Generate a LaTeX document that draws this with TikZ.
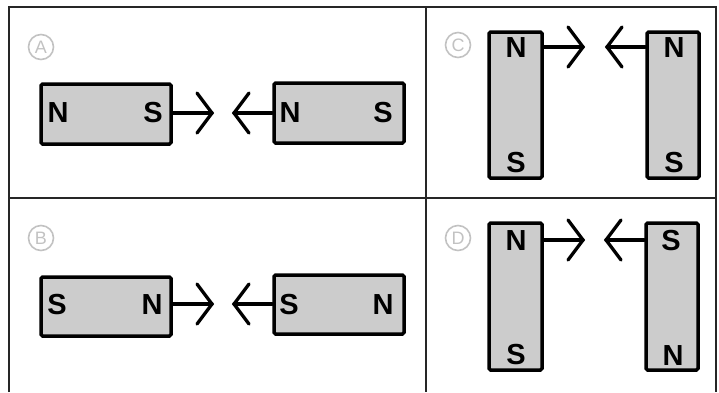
\documentclass[tikz,border=0pt]{standalone}
\usepackage{fontspec}
\setmainfont{Liberation Sans}
\begin{document}
\begin{tikzpicture}[x=1pt,y=-1pt,
  frame/.style={draw=black!85,line width=2pt},
  magnet/.style={draw=black,fill=black!20,line width=3.5pt,rounded corners=1.5pt,inner sep=0pt},
  pole/.style={font=\fontsize{29}{30}\selectfont\bfseries,text height=20.8pt,text depth=0pt,inner sep=0pt},
  tag/.style={draw=black!24,line width=1.6pt,circle,minimum size=25pt,inner sep=0pt,text=black!24,font=\fontsize{18}{19}\selectfont},
  force/.style={line width=3.3pt,line cap=round,line join=miter}]
\useasboundingbox (0,0) rectangle (719,392);
% frame
\coordinate (fbl) at (9,392);
\coordinate (ftl) at (9,7);
\coordinate (ftr) at (716,7);
\coordinate (fbr) at (716,392);
\coordinate (fmt) at (426,7);
\coordinate (fmb) at (426,392);
\coordinate (fml) at (9,198);
\coordinate (fmr) at (716,198);
\draw[frame] (fbl) -- (ftl) -- (ftr) -- (fbr);
\draw[frame] (fmt) -- (fmb);
\draw[frame] (fml) -- (fmr);
% tags
\node[tag] (tA) at (41,47) {A};
\node[tag] (tB) at (41,238) {B};
\node[tag] (tC) at (458,45) {C};
\node[tag] (tD) at (458,238) {D};
% Panel A
\node[magnet,minimum width=130pt,minimum height=60pt] (a1) at (106,114) {};
\node[magnet,minimum width=130pt,minimum height=60pt] (a2) at (339,113) {};
\node[pole] (a1n) at (58,112) {N};
\node[pole] (a1s) at (153,112) {S};
\node[pole] (a2n) at (290,112) {N};
\node[pole] (a2s) at (383,112) {S};
\coordinate (aT1) at (212,113);
\coordinate (aT2) at (234,113);
\draw[force] (a1.east |- aT1) -- (aT1);
\draw[force] (aT1) ++(-15,-20) -- (aT1) -- ++(-15,20);
\draw[force] (a2.west |- aT2) -- (aT2);
\draw[force] (aT2) ++(15,-20) -- (aT2) -- ++(15,20);
% Panel B
\node[magnet,minimum width=130pt,minimum height=59pt] (b1) at (106,306.5) {};
\node[magnet,minimum width=130pt,minimum height=59pt] (b2) at (339,304.5) {};
\node[pole] (b1s) at (57,304) {S};
\node[pole] (b1n) at (152,304) {N};
\node[pole] (b2s) at (289,304) {S};
\node[pole] (b2n) at (383,304) {N};
\coordinate (bT1) at (212,304);
\coordinate (bT2) at (234,304);
\draw[force] (b1.east |- bT1) -- (bT1);
\draw[force] (bT1) ++(-15,-20) -- (bT1) -- ++(-15,20);
\draw[force] (b2.west |- bT2) -- (bT2);
\draw[force] (bT2) ++(15,-20) -- (bT2) -- ++(15,20);
% Panel C
\node[magnet,minimum width=53pt,minimum height=146pt] (c1) at (515.5,105) {};
\node[magnet,minimum width=52pt,minimum height=146pt] (c2) at (673,105) {};
\node[pole] (c1n) at (516,47) {N};
\node[pole] (c1s) at (516,162) {S};
\node[pole] (c2n) at (674,47) {N};
\node[pole] (c2s) at (674,162) {S};
\coordinate (cT1) at (583,47);
\coordinate (cT2) at (607,47);
\draw[force] (c1.east |- cT1) -- (cT1);
\draw[force] (cT1) ++(-15,-20) -- (cT1) -- ++(-15,20);
\draw[force] (c2.west |- cT2) -- (cT2);
\draw[force] (cT2) ++(15,-20) -- (cT2) -- ++(15,20);
% Panel D
\node[magnet,minimum width=53pt,minimum height=147pt] (d1) at (515.5,296.5) {};
\node[magnet,minimum width=52pt,minimum height=147pt] (d2) at (672,296.5) {};
\node[pole] (d1n) at (516,240) {N};
\node[pole] (d1s) at (516,354) {S};
\node[pole] (d2s) at (671,240) {S};
\node[pole] (d2n) at (673,355) {N};
\coordinate (dT1) at (583,240);
\coordinate (dT2) at (606,240);
\draw[force] (d1.east |- dT1) -- (dT1);
\draw[force] (dT1) ++(-15,-20) -- (dT1) -- ++(-15,20);
\draw[force] (d2.west |- dT2) -- (dT2);
\draw[force] (dT2) ++(15,-20) -- (dT2) -- ++(15,20);
\end{tikzpicture}
\end{document}
